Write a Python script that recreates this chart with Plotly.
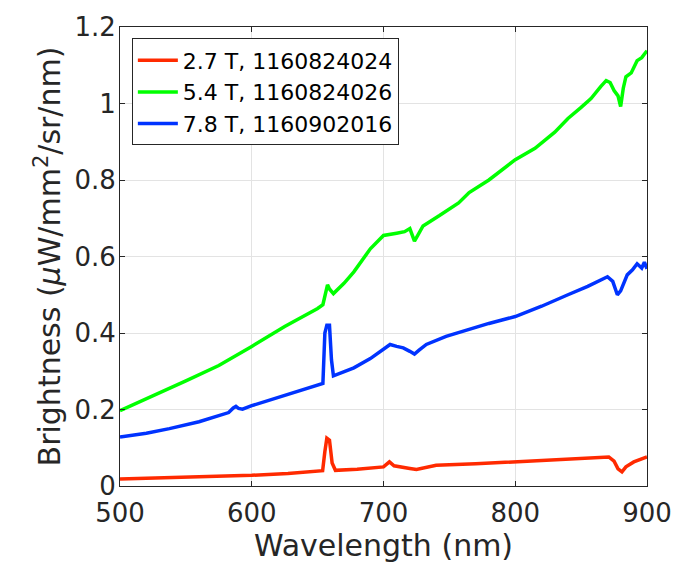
import plotly.graph_objects as go

# ---- data ----
red_x = [500, 550, 600, 627.5, 650, 653.8, 655.5, 657, 659, 661, 663.5, 680, 700, 704.5, 708, 712, 720, 725,
         740, 770, 800, 840, 865, 871, 875, 878, 881, 884, 890, 895, 900]
red_y = [0.018, 0.022, 0.028, 0.033, 0.038, 0.040, 0.09, 0.125, 0.12, 0.06, 0.041, 0.044, 0.050, 0.063, 0.053,
         0.050, 0.046, 0.043, 0.054, 0.058, 0.063, 0.069, 0.074, 0.076, 0.065, 0.045, 0.037, 0.05, 0.063, 0.07, 0.076]

green_x = [500, 525, 550, 575, 587.5, 600, 625, 640, 650, 654, 656, 657.5, 659, 662, 670, 677.5, 690, 700, 710,
           716, 720, 722, 723.5, 726, 730, 742.5, 757, 765, 780, 800, 815, 830, 840, 850, 857.5, 865, 869, 872,
           875, 878, 880, 882, 884, 888, 892.5, 896, 900]
green_y = [0.197, 0.235, 0.275, 0.315, 0.339, 0.365, 0.417, 0.445, 0.464, 0.474, 0.51, 0.526, 0.515, 0.503, 0.53,
           0.56, 0.62, 0.655, 0.661, 0.665, 0.673, 0.655, 0.640, 0.655, 0.68, 0.707, 0.74, 0.767, 0.80, 0.853,
           0.883, 0.925, 0.961, 0.99, 1.013, 1.045, 1.06, 1.055, 1.034, 1.02, 0.992, 1.04, 1.07, 1.08, 1.112,
           1.12, 1.138]

blue_x = [500, 520, 537.5, 560, 575, 582.5, 586, 588, 590, 593, 600, 625, 640, 650, 654, 655.5, 657, 659, 660.5,
          662, 670, 677.5, 690, 700, 705, 710, 715, 720, 723.5, 727, 732.5, 747.5, 760, 780, 800, 820, 840, 855,
          870, 874, 877.5, 880, 885, 889, 892.5, 896, 898, 900]
blue_y = [0.128, 0.138, 0.150, 0.168, 0.184, 0.192, 0.204, 0.208, 0.203, 0.201, 0.210, 0.236, 0.252, 0.262,
          0.268, 0.40, 0.42, 0.42, 0.33, 0.288, 0.298, 0.309, 0.333, 0.357, 0.370, 0.365, 0.361, 0.352, 0.345,
          0.355, 0.370, 0.391, 0.404, 0.425, 0.443, 0.47, 0.5, 0.522, 0.547, 0.535, 0.50, 0.51, 0.552, 0.565,
          0.581, 0.57, 0.585, 0.568]

names = ["2.7 T, 1160824024", "5.4 T, 1160824026", "7.8 T, 1160902016"]
colors = ["#ff2a00", "#00ff00", "#0033ff"]
x_ticks = [500, 600, 700, 800, 900]
y_ticks = [0, 0.2, 0.4, 0.6, 0.8, 1, 1.2]
y_tick_text = ["0", "0.2", "0.4", "0.6", "0.8", "1", "1.2"]

FONT = "DejaVu Sans"
fig = go.Figure()
for xs, ys, n, c in zip([red_x, green_x, blue_x], [red_y, green_y, blue_y], names, colors):
    fig.add_trace(go.Scatter(x=xs, y=ys, mode="lines", name=n, line=dict(color=c, width=3.5)))

axis_common = dict(
    showline=True, linecolor="#262626", linewidth=1, mirror="ticks",
    ticks="inside", ticklen=5, tickcolor="#262626",
    showgrid=True, gridcolor="#e3e3e3", gridwidth=1, zeroline=False,
    tickfont=dict(family=FONT, size=26, color="#262626"),
)
fig.update_xaxes(range=[500, 900], tickvals=x_ticks, ticklabelstandoff=4,
                 title=dict(text="Wavelength (nm)", font=dict(family=FONT, size=30, color="#262626"), standoff=6),
                 **axis_common)
fig.update_yaxes(range=[0, 1.2], tickvals=y_ticks, ticktext=y_tick_text, ticklabelstandoff=-2,
                 title=dict(text="Brightness (<i>μ</i>W/mm<sup>2</sup>/sr/nm)",
                            font=dict(family=FONT, size=30, color="#262626"), standoff=4),
                 **axis_common)
fig.update_layout(
    width=684, height=570,
    margin=dict(l=120, r=31, t=22, b=84),
    plot_bgcolor="white", paper_bgcolor="white",
    showlegend=True,
    legend=dict(x=0.0225, y=0.975, xanchor="left", yanchor="top",
                bgcolor="white", bordercolor="#262626", borderwidth=1,
                font=dict(family=FONT, size=22, color="#000000"),
                tracegroupgap=0, itemwidth=40),
)
fig.write_html("out.html")
